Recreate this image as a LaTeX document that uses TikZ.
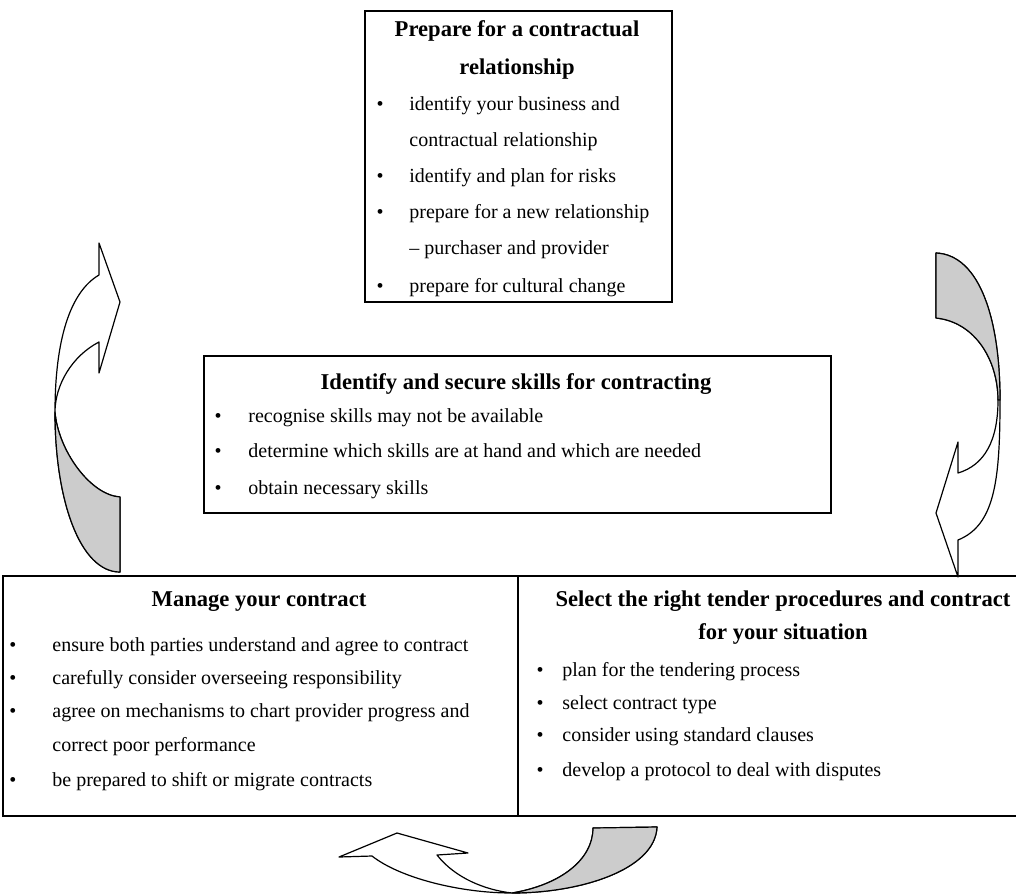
\documentclass[tikz,border=0pt]{standalone}
\usepackage{fontspec}
\setmainfont{Liberation Serif}
\usetikzlibrary{positioning, calc}
\definecolor{backgray}{HTML}{CCCCCC}
\definecolor{edgeblack}{HTML}{000000}

\begin{document}
\begin{tikzpicture}[
    x=0.5pt, y=-0.5pt,
    box/.style={draw=edgeblack, line width=1.2pt, anchor=north west, inner sep=0pt},
    head/.style={font=\fontsize{11.3}{13}\selectfont\bfseries, inner sep=0pt, anchor=mid},
    item/.style={font=\fontsize{10}{12}\selectfont, inner sep=0pt, anchor=mid west},
    bul/.style={font=\fontsize{10}{12}\selectfont, inner sep=0pt, anchor=mid},
    turnfront/.style={draw=edgeblack, line width=0.6pt, fill=white, line join=round},
    turnback/.style={draw=edgeblack, line width=0.6pt, fill=backgray, line join=round},
  ]
  \useasboundingbox (0,0) rectangle (1016,894);

  % ── Boxes ──
  \node[box, minimum width=153.5pt, minimum height=145.5pt] (prep) at (364,10) {};
  \node[box, minimum width=313.5pt, minimum height=78.5pt] (skills) at (203,355) {};
  \node[box, minimum width=257.5pt, minimum height=120pt] (manage) at (2,575) {};
  \node[box, minimum width=252.5pt, minimum height=120pt] (tender) at (517,575) {};

  % ── Prepare ──
  \node[head] (prep_h1) at (517,32) {Prepare for a contractual};
  \node[head] (prep_h2) at (517,70) {relationship};
  \node[bul] (prep_b1) at (380,106) {\textbullet};
  \node[item] (prep_t1) at (409,106) {identify your business and};
  \node[item] (prep_t1b) at (409,142) {contractual relationship};
  \node[bul] (prep_b2) at (380,178) {\textbullet};
  \node[item] (prep_t2) at (409,178) {identify and plan for risks};
  \node[bul] (prep_b3) at (380,214) {\textbullet};
  \node[item] (prep_t3) at (409,214) {prepare for a new relationship};
  \node[item] (prep_t3b) at (409,250) {– purchaser and provider};
  \node[bul] (prep_b4) at (380,288) {\textbullet};
  \node[item] (prep_t4) at (409,288) {prepare for cultural change};

  % ── Skills ──
  \node[head] (skills_h) at (516,385) {Identify and secure skills for contracting};
  \node[bul] (skills_b1) at (218,418) {\textbullet};
  \node[item] (skills_t1) at (248,418) {recognise skills may not be available};
  \node[bul] (skills_b2) at (218,453) {\textbullet};
  \node[item] (skills_t2) at (248,453) {determine which skills are at hand and which are needed};
  \node[bul] (skills_b3) at (218,490) {\textbullet};
  \node[item] (skills_t3) at (248,490) {obtain necessary skills};

  % ── Manage ──
  \node[head] (manage_h) at (259,602) {Manage your contract};
  \node[bul] (manage_b1) at (13,647) {\textbullet};
  \node[item] (manage_t1) at (52,647) {ensure both parties understand and agree to contract};
  \node[bul] (manage_b2) at (13,680) {\textbullet};
  \node[item] (manage_t2) at (52,680) {carefully consider overseeing responsibility};
  \node[bul] (manage_b3) at (13,713) {\textbullet};
  \node[item] (manage_t3) at (52,713) {agree on mechanisms to chart provider progress and};
  \node[item] (manage_t3b) at (52,747) {correct poor performance};
  \node[bul] (manage_b4) at (13,782) {\textbullet};
  \node[item] (manage_t4) at (52,782) {be prepared to shift or migrate contracts};

  % ── Tender ──
  \node[head] (tender_h1) at (783,602) {Select the right tender procedures and contract};
  \node[head] (tender_h2) at (783,635) {for your situation};
  \node[bul] (tender_b1) at (540,672) {\textbullet};
  \node[item] (tender_t1) at (562,672) {plan for the tendering process};
  \node[bul] (tender_b2) at (540,705) {\textbullet};
  \node[item] (tender_t2) at (562,705) {select contract type};
  \node[bul] (tender_b3) at (540,737) {\textbullet};
  \node[item] (tender_t3) at (562,737) {consider using standard clauses};
  \node[bul] (tender_b4) at (540,772) {\textbullet};
  \node[item] (tender_t4) at (562,772) {develop a protocol to deal with disputes};

  % ── Left turn arrow (up) ──
  \draw[turnfront] (120,497) -- (120,572)
    .. controls (80,572) and (55,500) .. (55,412)
    .. controls (55,340) and (70,292) .. (99,275)
    -- (99,243) -- (120,302) -- (99,373) -- (99,342)
    .. controls (72,356) and (55,385) .. (55,412)
    .. controls (58,450) and (90,495) .. (120,497) -- cycle;
  \draw[turnback] (55,412) .. controls (58,450) and (90,495) .. (120,497)
    -- (120,572) .. controls (80,572) and (55,500) .. (55,412) -- cycle;

  % ── Right turn arrow (down) ──
  \draw[turnfront] (936,253)
    .. controls (980,255) and (1000,320) .. (1000,400)
    .. controls (1000,480) and (995,525) .. (958,540)
    -- (958,577) -- (936,513) -- (958,442) -- (958,473)
    .. controls (985,465) and (998,440) .. (998,400)
    .. controls (998,360) and (975,322) .. (936,318) -- cycle;
  \draw[turnback] (936,253) .. controls (980,255) and (1000,320) .. (1000,400)
    -- (998,400) .. controls (998,360) and (975,322) .. (936,318) -- cycle;

  % ── Bottom turn arrow (left) ──
  \draw[turnfront] (593,828) -- (657,827)
    .. controls (655,870) and (580,893) .. (512,893)
    .. controls (460,893) and (400,878) .. (372,856)
    -- (339,857) -- (397,833) -- (468,853) -- (437,855)
    .. controls (455,878) and (485,890) .. (512,893)
    .. controls (560,885) and (593,860) .. (593,828) -- cycle;
  \draw[turnback] (512,893) .. controls (560,885) and (593,860) .. (593,828)
    -- (657,827) .. controls (655,870) and (580,893) .. (512,893) -- cycle;

\end{tikzpicture}
\end{document}
